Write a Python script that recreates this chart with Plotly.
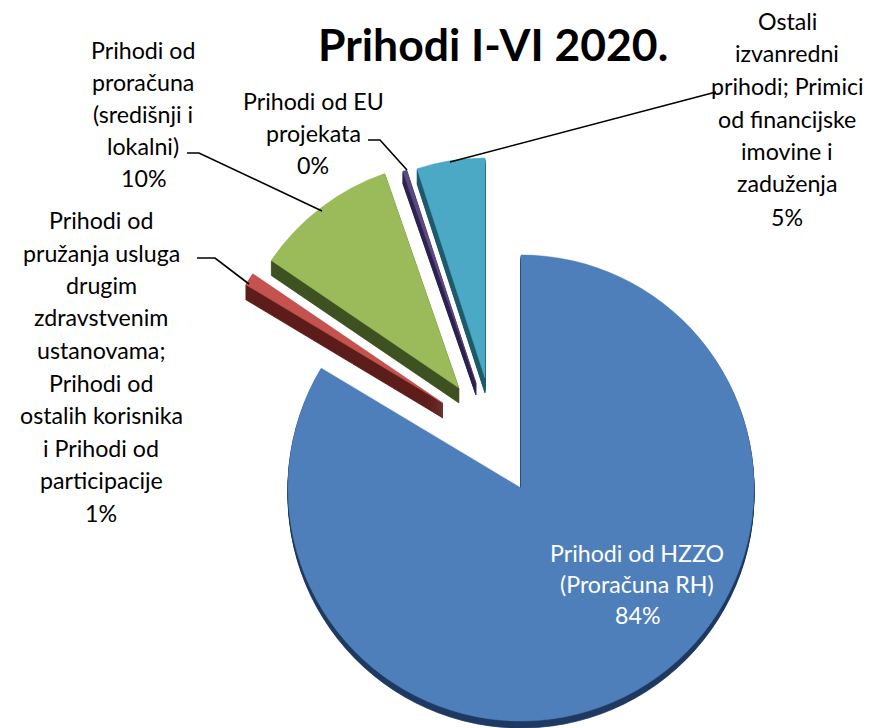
import plotly.graph_objects as go

W, H = 872, 728

title = "Prihodi I-VI 2020."
categories = ["HZZO", "Ostali korisnici", "Proračun", "EU projekti", "Ostali prihodi"]
values = [83.6, 0.9, 10.2, 0.3, 5.0]
front_colors = ["#4F7FBA", "#C4524F", "#9BBB5A", "#5A4A80", "#4CA9C5"]
side_colors = ["#1F3A62", "#5E1E1C", "#3F5222", "#2E2350", "#1F5C6C"]

label_hzzo = ["Prihodi od HZZO", "(Proračuna RH)", "84%"]
label_proracun = ["Prihodi od", "proračuna", "(središnji i", "lokalni)", "10%"]
label_usluge = ["Prihodi od", "pružanja usluga", "drugim", "zdravstvenim", "ustanovama;",
                "Prihodi od", "ostalih korisnika", "i Prihodi od", "participacije", "1%"]
label_eu = ["Prihodi od EU", "projekata", "0%"]
label_ostali = ["Ostali", "izvanredni", "prihodi; Primici", "od financijske",
                "imovine i", "zaduženja", "5%"]

# (centre x, centre y, radius, depth) of each slice in pixels
geometry = [(521, 488, 233, 7), (443, 403, 230, 15), (459, 388, 227, 15),
            (476, 383, 224, 12), (485, 378, 220, 15)]


def slice_trace(index, dy, color, edge):
    cx, cy, r, _ = geometry[index]
    cy = cy + dy
    colors = ["rgba(0,0,0,0)"] * len(values)
    colors[index] = color
    line_colors = ["rgba(0,0,0,0)"] * len(values)
    line_colors[index] = color
    return go.Pie(
        labels=categories, values=values, sort=False, direction="clockwise", rotation=0,
        marker=dict(colors=colors, line=dict(width=edge, color=line_colors)),
        textinfo="none", hoverinfo="skip", showlegend=False,
        domain=dict(x=[(cx - r) / W, (cx + r) / W], y=[1 - (cy + r) / H, 1 - (cy - r) / H]),
    )


fig = go.Figure()
for i in range(len(values)):
    depth = geometry[i][3]
    for dy in range(depth, 0, -1):
        fig.add_trace(slice_trace(i, dy, side_colors[i], 0.8))
    fig.add_trace(slice_trace(i, 0, front_colors[i], 0.5))

FONT = "Lato, Carlito, Calibri, sans-serif"
annotations = []


def text_block(lines, x, ys, color="#000000", size=23.2):
    for line, y in zip(lines, ys):
        annotations.append(dict(
            text=line, x=x / W, y=1 - y / H, xref="paper", yref="paper",
            xanchor="center", yanchor="middle", showarrow=False,
            font=dict(family=FONT, size=size, color=color),
        ))


text_block(label_hzzo, 637, [553, 584, 615], "#FFFFFF")
text_block(label_proracun, 143, [50, 82, 114, 146, 178])
text_block(label_usluge, 101, [220, 253, 285, 317, 350, 383, 415, 448, 480, 513])
text_block(label_eu, 313, [101, 133, 165])
text_block(label_ostali, 787, [21, 53, 86, 119, 151, 183, 217])
annotations.append(dict(
    text="<b>" + title + "</b>", x=493 / W, y=1 - 43 / H, xref="paper", yref="paper",
    xanchor="center", yanchor="middle", showarrow=False,
    font=dict(family=FONT, size=44.5, color="#000000"),
))

leaders = [
    [(187, 153), (199, 153), (322, 211)],
    [(197, 258), (215, 258), (249, 284)],
    [(368, 140), (380, 140), (407, 170)],
    [(716, 92), (450, 162)],
]
shapes = []
for pts in leaders:
    path = "M " + " L ".join(f"{x / W:.5f},{1 - y / H:.5f}" for x, y in pts)
    shapes.append(dict(type="path", path=path, xref="paper", yref="paper",
                       line=dict(color="#000000", width=1.6)))

fig.update_layout(
    width=W, height=H, margin=dict(l=0, r=0, t=0, b=0),
    paper_bgcolor="#FFFFFF", plot_bgcolor="#FFFFFF",
    annotations=annotations, shapes=shapes,
)
fig.write_html(
    "out.html", config=dict(displayModeBar=False),
    post_script="document.body.style.margin='0';document.body.style.overflow='hidden';",
)
